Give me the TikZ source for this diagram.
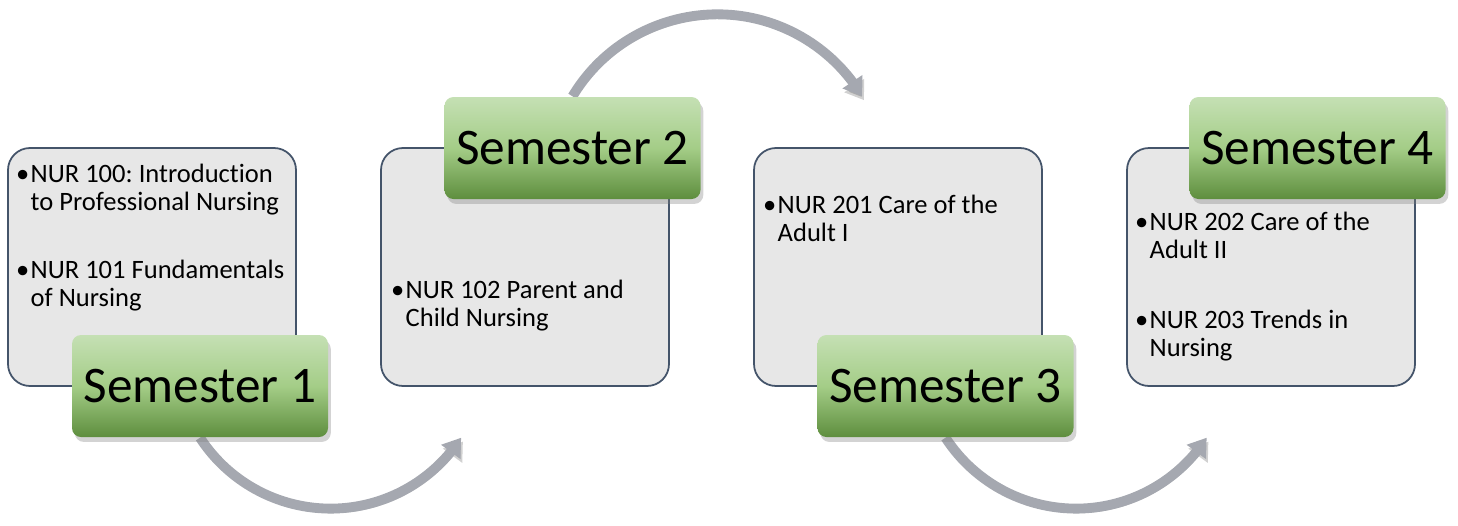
\documentclass[tikz,border=0pt]{standalone}
\usepackage{fontspec}
\setmainfont{Carlito}[Ligatures=NoCommon]
\frenchspacing
\usetikzlibrary{arrows.meta,bending,shadows,backgrounds}

\definecolor{boxgray}{HTML}{E7E7E7}
\definecolor{boxline}{HTML}{44546A}
\definecolor{semtop}{HTML}{C5E0B4}
\definecolor{semmid}{HTML}{A4CD87}
\definecolor{sembot}{HTML}{5E8E3E}
\definecolor{arrowgray}{HTML}{A5A8B0}

\tikzset{
  course/.style={draw=boxline, line width=.5pt, fill=boxgray, rounded corners=.22cm,
    minimum width=2.88cm, minimum height=2.38cm},
  sem/.style={rounded corners=.09cm, minimum width=2.56cm, minimum height=1.02cm, inner sep=0,
    top color=semtop, bottom color=sembot, middle color=semmid,
    drop shadow={shadow xshift=.8pt, shadow yshift=-1.4pt, opacity=.35},
    font=\fontsize{14.6pt}{16pt}\selectfont},
  item/.style={anchor=base west, inner sep=0, font=\fontsize{7.55pt}{7.97pt}\selectfont},
  flowarrow/.style={draw=arrowgray, line width=2.8pt, -{Triangle[width=6.5pt,length=5pt]},
    preaction={draw=black, opacity=.18, transform canvas={shift={(.5pt,-1.1pt)}}}}
}

\newcommand{\bul}[1]{\parbox[t]{2.7cm}{\raggedright\leavevmode\llap{\textbullet\hspace{.4pt}}#1}}

\begin{document}
\begin{tikzpicture}
  \useasboundingbox (0, 0) rectangle (14.58, -5.25);

  %% course boxes
  \node[course] (g1) at (1.52, -2.67) {};
  \node[course] (g2) at (5.25, -2.67) {};
  \node[course] (g3) at (8.98, -2.67) {};
  \node[course] (g4) at (12.71, -2.67) {};

  %% S1
  \node[item] (i1a) at (.30, -1.82) {\bul{NUR 100: Introduction\\to Professional Nursing}};
  \node[item] (i1b) at (.30, -2.78) {\bul{NUR 101 Fundamentals\\of Nursing}};
  %% S2
  \node[item] (i2) at (4.05, -2.98) {\bul{NUR 102 Parent and\\Child Nursing}};
  %% S3
  \node[item] (i3) at (7.77, -2.13) {\bul{NUR 201 Care of the\\Adult I}};
  %% S4
  \node[item] (i4a) at (11.49, -2.30) {\bul{NUR 202 Care of the\\Adult II}};
  \node[item] (i4b) at (11.49, -3.28) {\bul{NUR 203 Trends in\\Nursing}};

  %% semester labels
  \node[sem] (s1) at (2.00, -3.86) {Semester 1};
  \node[sem] (s2) at (5.725, -1.48) {Semester 2};
  \node[sem] (s3) at (9.455, -3.86) {Semester 3};
  \node[sem] (s4) at (13.175, -1.48) {Semester 4};

  %% arrows, behind the labels
  \begin{scope}[on background layer]
    \draw[flowarrow](s1.south) arc[start angle=213, end angle=327, radius=1.557];
    \draw[flowarrow](s2.north) arc[start angle=149, end angle=31, radius=1.69];
    \draw[flowarrow](s3.south) arc[start angle=213, end angle=327, radius=1.557];
  \end{scope}

\end{tikzpicture}
\end{document}
